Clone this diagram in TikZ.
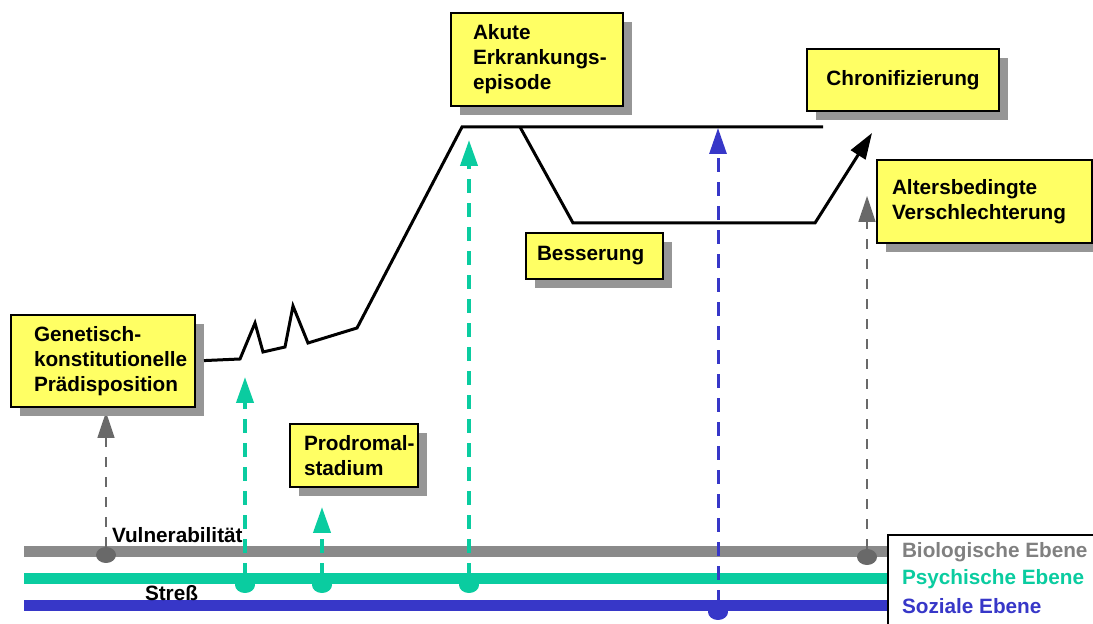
\documentclass[tikz,border=0pt]{standalone}
\usepackage{fontspec}
\setmainfont{Liberation Sans}
\newcommand*{\boxfont}{\fontsize{11.8}{14.2}\selectfont\bfseries\hyphenpenalty=10000}
\definecolor{Y}{RGB}{255,255,100}
\definecolor{shade}{RGB}{150,150,150}
\definecolor{bio}{RGB}{138,138,138}
\definecolor{biodark}{RGB}{105,105,105}
\definecolor{biotext}{RGB}{128,128,128}
\definecolor{psy}{RGB}{10,204,160}
\definecolor{soz}{RGB}{55,55,200}
\usetikzlibrary{arrows.meta}
\usetikzlibrary{shadows}
\usetikzlibrary{shapes.geometric}
\tikzstyle{base}=[inner sep=0pt, outer sep=0pt]
\tikzstyle{band}=[line width=0.22cm]
\tikzstyle{box}=[draw=black, fill=Y, line width=0.03cm, anchor=north west, align=left,
    drop shadow={shadow xshift=0.18cm, shadow yshift=-0.18cm, fill=shade, opacity=1}]
\tikzstyle{dot}=[ellipse, minimum width=0.4cm, minimum height=0.32cm]
\tikzstyle{tip}=[-{Triangle[length=0.52cm, width=0.34cm]}]
\tikzstyle{biolink}=[tip, biodark, line width=0.03cm, dash pattern=on 0.2cm off 0.2cm]
\tikzstyle{psylink}=[tip, psy, line width=0.08cm, dash pattern=on 0.28cm off 0.2cm]
\tikzstyle{sozlink}=[tip, soz, line width=0.06cm, dash pattern=on 0.28cm off 0.2cm]
\tikzstyle{course}=[black, line width=0.06cm]

\begin{document}
\begin{tikzpicture}[base]
    \boxfont
    \path [use as bounding box] (0,0) rectangle (21.86,12.48);
    % Ebenen
    \draw [band, bio] (0.48,1.44) -- (17.76,1.44);
    \draw [band, psy] (0.48,0.90) -- (17.76,0.90);
    \draw [band, soz] (0.48,0.36) -- (17.76,0.36);
    \node [draw=black, fill=white, line width=0.04cm, anchor=north west,
        minimum width=5cm, minimum height=2.5cm] (legend) at (17.76,1.78) {};
    \node [anchor=west, biotext] (bioname) at (18.04,1.44) {Biologische Ebene};
    \node [anchor=west, psy] (psyname) at (18.04,0.90) {Psychische Ebene};
    \node [anchor=west, soz] (sozname) at (18.04,0.36) {Soziale Ebene};
    \node [anchor=west] (vulner) at (2.24,1.78) {Vulnerabilität};
    \node [anchor=west] (stress) at (2.90,0.62) {Streß};
    % Ansatzpunkte
    \node [dot, fill=biodark] (bio1) at (2.12,1.38) {};
    \node [dot, fill=biodark] (bio2) at (17.34,1.34) {};
    \node [dot, fill=psy] (psy1) at (4.90,0.78) {};
    \node [dot, fill=psy] (psy2) at (6.44,0.78) {};
    \node [dot, fill=psy] (psy3) at (9.38,0.78) {};
    \node [dot, fill=soz] (soz1) at (14.36,0.24) {};
    \coordinate (bio1top) at (2.12,4.24);
    \coordinate (bio2top) at (17.34,8.56);
    \coordinate (psy1top) at (4.90,4.94);
    \coordinate (psy2top) at (6.44,2.34);
    \coordinate (psy3top) at (9.38,9.68);
    \coordinate (soz1top) at (14.36,9.92);
    \draw [biolink] (bio1) -- (bio1top);
    \draw [biolink] (bio2) -- (bio2top);
    \draw [psylink] (psy1) -- (psy1top);
    \draw [psylink] (psy2) -- (psy2top);
    \draw [psylink] (psy3) -- (psy3top);
    \draw [sozlink] (soz1) -- (soz1top);
    % Verlauf
    \coordinate (c1) at (4.80,5.30);
    \coordinate (c2) at (5.10,6.02);
    \coordinate (c3) at (5.26,5.44);
    \coordinate (c4) at (5.70,5.54);
    \coordinate (c5) at (5.86,6.36);
    \coordinate (c6) at (6.16,5.62);
    \coordinate (c7) at (7.14,5.92);
    \coordinate (peak) at (9.24,9.94);
    \coordinate (peakend) at (16.46,9.94);
    \coordinate (fall) at (10.40,9.94);
    \coordinate (low) at (11.46,8.02);
    \coordinate (lowend) at (16.30,8.02);
    \coordinate (chronend) at (17.44,9.82);
    % Kaesten
    \node [box, minimum width=3.68cm, minimum height=1.84cm, text width=2.76cm] (gen) at (0.22,6.18)
        {Genetisch-\\konstitutionelle\\Prädisposition};
    \draw [course, shorten <=0.18cm] (gen.east) -- (c1) -- (c2) -- (c3) -- (c4) -- (c5) -- (c6)
        -- (c7) -- (peak) -- (peakend);
    \draw [course, tip] (fall) -- (low) -- (lowend) -- (chronend);
    \node [box, minimum width=3.44cm, minimum height=1.86cm, text width=2.56cm] (akut) at (9.02,12.22)
        {Akute\\\mbox{Erkrankungs-}\\episode};
    \node [box, minimum width=3.84cm, minimum height=1.24cm] (chron) at (16.14,11.50)
        {Chronifizierung};
    \node [box, minimum width=4.30cm, minimum height=1.66cm, text width=3.70cm] (alter) at (17.54,9.28)
        {Altersbedingte\\Verschlechterung};
    \node [box, minimum width=2.74cm, minimum height=0.92cm, text width=2.30cm] (besser) at (10.52,7.82)
        {Besserung};
    \node [box, minimum width=2.56cm, minimum height=1.26cm, text width=2.00cm] (prodrom) at (5.80,4.00)
        {\mbox{Prodromal-}\\stadium};
\end{tikzpicture}
\end{document}
